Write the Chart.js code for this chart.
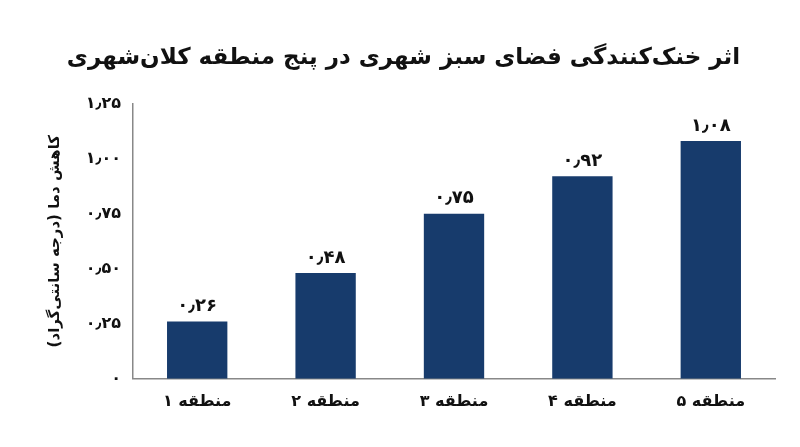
<!DOCTYPE html>
<html lang="fa">
<head>
<meta charset="utf-8">
<script src="https://cdn.jsdelivr.net/npm/chart.js@4.4.1/dist/chart.umd.min.js"></script>
<style>
  html, body { margin: 0; padding: 0; background: #fff; }
  #wrap { width: 800px; height: 447px; }
</style>
</head>
<body>
<div id="wrap"><canvas id="coolingChart"></canvas></div>
<script>
// data
var regions = ['منطقه ۱', 'منطقه ۲', 'منطقه ۳', 'منطقه ۴', 'منطقه ۵'];
var tempDrop = [0.26, 0.48, 0.75, 0.92, 1.08];
var yTicks = [0, 0.25, 0.5, 0.75, 1, 1.25];
var yTickLabels = ['۰', '۰٫۲۵', '۰٫۵۰', '۰٫۷۵', '۱٫۰۰', '۱٫۲۵'];

var FONT = '"DejaVu Sans", "Noto Sans", sans-serif';
var barColor = '#173b6c';

function toFa(v) {
  return v.toFixed(2).replace('.', '٫').replace(/\d/g, function (d) { return '۰۱۲۳۴۵۶۷۸۹'[d]; });
}

// value labels above the bars
var valueLabels = {
  id: 'valueLabels',
  afterDatasetsDraw: function (chart) {
    var ctx = chart.ctx;
    var meta = chart.getDatasetMeta(0);
    ctx.save();
    ctx.font = 'bold 18px ' + FONT;
    ctx.fillStyle = '#111';
    ctx.textAlign = 'center';
    ctx.textBaseline = 'bottom';
    meta.data.forEach(function (bar, i) {
      ctx.fillText(toFa(tempDrop[i]), bar.x, bar.y - 6);
    });
    ctx.restore();
  }
};

var ctx = document.getElementById('coolingChart').getContext('2d');
new Chart(ctx, {
  type: 'bar',
  data: {
    labels: regions,
    datasets: [{
      label: 'کاهش دما',
      data: tempDrop,
      backgroundColor: barColor,
      barPercentage: 0.47,
      categoryPercentage: 1
    }]
  },
  options: {
    responsive: true,
    maintainAspectRatio: false,
    animation: false,
    layout: { padding: { left: 32, right: 25, top: 28, bottom: 23 } },
    plugins: {
      legend: { display: false },
      tooltip: { enabled: false },
      title: {
        display: true,
        text: 'اثر خنک‌کنندگی فضای سبز شهری در پنج منطقه کلان‌شهری',
        color: '#111',
        font: { family: FONT, size: 23, weight: 'bold' },
        padding: { top: 16, bottom: 32 }
      }
    },
    scales: {
      x: {
        grid: { display: false, drawTicks: false },
        border: { display: true, color: '#888', width: 1.5 },
        ticks: {
          color: '#111',
          padding: 13,
          font: { family: FONT, size: 16, weight: 'bold' }
        }
      },
      y: {
        min: 0,
        max: 1.25,
        afterFit: function (scale) { scale.width = 101; },
        afterBuildTicks: function (scale) {
          scale.ticks = yTicks.map(function (v) { return { value: v }; });
        },
        grid: { display: false, drawTicks: false },
        border: { display: true, color: '#888', width: 1.5 },
        ticks: {
          color: '#111',
          padding: 12,
          font: { family: FONT, size: 16, weight: 'bold' },
          callback: function (value) {
            var i = yTicks.indexOf(value);
            return i >= 0 ? yTickLabels[i] : '';
          }
        },
        title: {
          display: true,
          text: 'کاهش دما (درجه سانتی‌گراد)',
          color: '#111',
          font: { family: FONT, size: 15, weight: 'bold' },
          padding: { top: 14, bottom: 0 }
        }
      }
    }
  },
  plugins: [valueLabels]
});
</script>
</body>
</html>
